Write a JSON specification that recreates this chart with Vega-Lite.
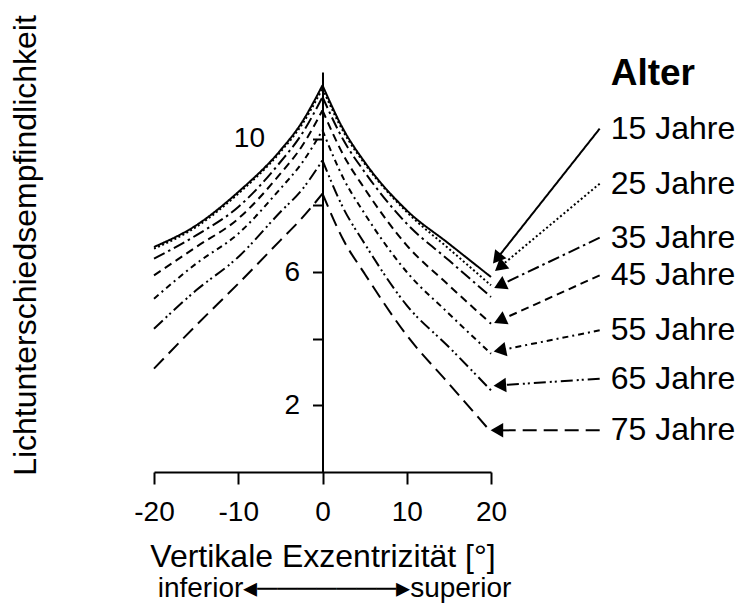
{
  "$schema": "https://vega.github.io/schema/vega-lite/v6.json",
  "autosize": {"type": "none"},
  "width": 337,
  "height": 400,
  "padding": {"left": 154, "top": 72, "right": 253, "bottom": 136},
  "background": "white",
  "config": {
    "view": {"stroke": null},
    "font": "Liberation Sans",
    "axis": {
      "grid": false,
      "domainColor": "black",
      "domainWidth": 2,
      "tickColor": "black",
      "tickWidth": 2,
      "labelColor": "black",
      "titleColor": "black",
      "labelFont": "Liberation Sans",
      "titleFont": "Liberation Sans",
      "titleFontWeight": "normal"
    }
  },
  "title": {
    "text": "inferior◂───────▸superior",
    "orient": "bottom",
    "anchor": "middle",
    "font": "Liberation Sans",
    "fontSize": 28,
    "fontWeight": "normal",
    "color": "black",
    "offset": 3,
    "dx": 12
  },
  "datasets": {
    "kurven": [
      {"alter": "15 Jahre", "ex": -20, "ls": 6.75},
      {"alter": "15 Jahre", "ex": -15, "ls": 7.4},
      {"alter": "15 Jahre", "ex": -10, "ls": 8.4},
      {"alter": "15 Jahre", "ex": -5, "ls": 9.65},
      {"alter": "15 Jahre", "ex": -2.5, "ls": 10.47},
      {"alter": "15 Jahre", "ex": 0, "ls": 11.6},
      {"alter": "15 Jahre", "ex": 2.5, "ls": 10.27},
      {"alter": "15 Jahre", "ex": 5, "ls": 9.3},
      {"alter": "15 Jahre", "ex": 10, "ls": 7.85},
      {"alter": "15 Jahre", "ex": 15, "ls": 6.85},
      {"alter": "15 Jahre", "ex": 20, "ls": 5.85},

      {"alter": "25 Jahre", "ex": -20, "ls": 6.7},
      {"alter": "25 Jahre", "ex": -15, "ls": 7.35},
      {"alter": "25 Jahre", "ex": -10, "ls": 8.35},
      {"alter": "25 Jahre", "ex": -5, "ls": 9.6},
      {"alter": "25 Jahre", "ex": -2.5, "ls": 10.4},
      {"alter": "25 Jahre", "ex": 0, "ls": 11.5},
      {"alter": "25 Jahre", "ex": 2.5, "ls": 10.2},
      {"alter": "25 Jahre", "ex": 5, "ls": 9.25},
      {"alter": "25 Jahre", "ex": 10, "ls": 7.8},
      {"alter": "25 Jahre", "ex": 15, "ls": 6.7},
      {"alter": "25 Jahre", "ex": 20, "ls": 5.6},

      {"alter": "35 Jahre", "ex": -20, "ls": 6.4},
      {"alter": "35 Jahre", "ex": -15, "ls": 7.1},
      {"alter": "35 Jahre", "ex": -10, "ls": 7.95},
      {"alter": "35 Jahre", "ex": -5, "ls": 9.3},
      {"alter": "35 Jahre", "ex": -2.5, "ls": 10.12},
      {"alter": "35 Jahre", "ex": 0, "ls": 11.25},
      {"alter": "35 Jahre", "ex": 2.5, "ls": 9.95},
      {"alter": "35 Jahre", "ex": 5, "ls": 9.0},
      {"alter": "35 Jahre", "ex": 10, "ls": 7.45},
      {"alter": "35 Jahre", "ex": 15, "ls": 6.35},
      {"alter": "35 Jahre", "ex": 20, "ls": 5.25},

      {"alter": "45 Jahre", "ex": -20, "ls": 5.9},
      {"alter": "45 Jahre", "ex": -15, "ls": 6.75},
      {"alter": "45 Jahre", "ex": -10, "ls": 7.6},
      {"alter": "45 Jahre", "ex": -5, "ls": 8.95},
      {"alter": "45 Jahre", "ex": -2.5, "ls": 9.75},
      {"alter": "45 Jahre", "ex": 0, "ls": 10.85},
      {"alter": "45 Jahre", "ex": 2.5, "ls": 9.5},
      {"alter": "45 Jahre", "ex": 5, "ls": 8.5},
      {"alter": "45 Jahre", "ex": 10, "ls": 6.8},
      {"alter": "45 Jahre", "ex": 15, "ls": 5.6},
      {"alter": "45 Jahre", "ex": 20, "ls": 4.45},

      {"alter": "55 Jahre", "ex": -20, "ls": 5.2},
      {"alter": "55 Jahre", "ex": -15, "ls": 6.25},
      {"alter": "55 Jahre", "ex": -10, "ls": 7.15},
      {"alter": "55 Jahre", "ex": -5, "ls": 8.5},
      {"alter": "55 Jahre", "ex": -2.5, "ls": 9.25},
      {"alter": "55 Jahre", "ex": 0, "ls": 10.25},
      {"alter": "55 Jahre", "ex": 2.5, "ls": 8.8},
      {"alter": "55 Jahre", "ex": 5, "ls": 7.75},
      {"alter": "55 Jahre", "ex": 10, "ls": 6.0},
      {"alter": "55 Jahre", "ex": 15, "ls": 4.75},
      {"alter": "55 Jahre", "ex": 20, "ls": 3.55},

      {"alter": "65 Jahre", "ex": -20, "ls": 4.3},
      {"alter": "65 Jahre", "ex": -15, "ls": 5.45},
      {"alter": "65 Jahre", "ex": -10, "ls": 6.45},
      {"alter": "65 Jahre", "ex": -5, "ls": 7.8},
      {"alter": "65 Jahre", "ex": -2.5, "ls": 8.45},
      {"alter": "65 Jahre", "ex": 0, "ls": 9.35},
      {"alter": "65 Jahre", "ex": 2.5, "ls": 7.9},
      {"alter": "65 Jahre", "ex": 5, "ls": 6.85},
      {"alter": "65 Jahre", "ex": 10, "ls": 5.0},
      {"alter": "65 Jahre", "ex": 15, "ls": 3.75},
      {"alter": "65 Jahre", "ex": 20, "ls": 2.45},

      {"alter": "75 Jahre", "ex": -20, "ls": 3.1},
      {"alter": "75 Jahre", "ex": -15, "ls": 4.4},
      {"alter": "75 Jahre", "ex": -10, "ls": 5.65},
      {"alter": "75 Jahre", "ex": -5, "ls": 6.95},
      {"alter": "75 Jahre", "ex": -2.5, "ls": 7.6},
      {"alter": "75 Jahre", "ex": 0, "ls": 8.35},
      {"alter": "75 Jahre", "ex": 2.5, "ls": 6.95},
      {"alter": "75 Jahre", "ex": 5, "ls": 5.95},
      {"alter": "75 Jahre", "ex": 10, "ls": 4.1},
      {"alter": "75 Jahre", "ex": 15, "ls": 2.65},
      {"alter": "75 Jahre", "ex": 20, "ls": 1.2}
    ],
    "pfeile": [
      {"alter": "15 Jahre", "x": 32.9, "y": 10.3, "x2": 20.7, "y2": 6.4},
      {"alter": "25 Jahre", "x": 32.9, "y": 8.65, "x2": 21.05, "y2": 6.15},
      {"alter": "35 Jahre", "x": 32.9, "y": 7.03, "x2": 21.05, "y2": 5.6},
      {"alter": "45 Jahre", "x": 32.9, "y": 5.9, "x2": 21.05, "y2": 4.55},
      {"alter": "55 Jahre", "x": 32.9, "y": 4.25, "x2": 21.05, "y2": 3.65},
      {"alter": "65 Jahre", "x": 32.9, "y": 2.8, "x2": 21.05, "y2": 2.6},
      {"alter": "75 Jahre", "x": 32.9, "y": 1.25, "x2": 20.7, "y2": 1.25}
    ]
  },
  "layer": [
    {
      "data": {"name": "kurven"},
      "transform": [
        {"calculate": "datum.ex < 0 ? ['links'] : datum.ex > 0 ? ['rechts'] : ['links', 'rechts']", "as": "seite"},
        {"flatten": ["seite"]}
      ],
      "mark": {"type": "line", "color": "black", "strokeWidth": 2, "interpolate": "monotone", "clip": false},
      "encoding": {
        "x": {
          "field": "ex",
          "type": "quantitative",
          "scale": {"domain": [-20, 20], "nice": false, "zero": false},
          "axis": {
            "values": [-20, -10, 0, 10, 20],
            "labelExpr": "'' + datum.value",
            "tickSize": 12,
            "labelFontSize": 28,
            "labelPadding": 14,
            "labelFlush": false,
            "title": "Vertikale Exzentrizität [°]",
            "titleFontSize": 32,
            "titlePadding": 15
          }
        },
        "y": {
          "field": "ls",
          "type": "quantitative",
          "scale": {"domain": [0, 12], "nice": false},
          "axis": {
            "orient": "left",
            "offset": -168.5,
            "values": [2, 4, 6, 8, 10],
            "tickSize": 10,
            "labelExpr": "datum.value % 4 == 2 ? datum.label : ''",
            "labelFontSize": 28,
            "labelPadding": {"condition": {"test": "datum.value == 10", "value": 48}, "value": 13},
            "title": "Lichtunterschiedsempfindlichkeit",
            "titleFontSize": 32,
            "titleBaseline": "alphabetic",
            "titleX": -287.5,
            "titleY": 173
          }
        },
        "strokeDash": {
          "field": "alter",
          "type": "nominal",
          "scale": {
            "domain": ["15 Jahre", "25 Jahre", "35 Jahre", "45 Jahre", "55 Jahre", "65 Jahre", "75 Jahre"],
            "range": [[1, 0], [2, 2.5], [12, 4, 2.5, 4], [8, 5], [6, 4, 2, 4], [12, 4, 2, 3, 2, 4], [14, 7]]
          },
          "legend": null
        },
        "detail": {"field": "seite"},
        "order": {"field": "ex", "type": "quantitative"}
      }
    },
    {
      "data": {"name": "pfeile"},
      "mark": {"type": "rule", "color": "black", "strokeWidth": 2, "clip": false},
      "encoding": {
        "x": {"field": "x", "type": "quantitative"},
        "y": {"field": "y", "type": "quantitative"},
        "x2": {"field": "x2"},
        "y2": {"field": "y2"},
        "strokeDash": {"field": "alter", "type": "nominal", "legend": null}
      }
    },
    {
      "data": {"name": "pfeile"},
      "transform": [
        {"calculate": "atan2(-(datum.y2 - datum.y) * 33.33, (datum.x2 - datum.x) * 8.425) * 180 / PI", "as": "winkel"}
      ],
      "mark": {"type": "point", "shape": "triangle-right", "filled": true, "color": "black", "size": 210, "opacity": 1, "clip": false},
      "encoding": {
        "x": {"field": "x2", "type": "quantitative"},
        "y": {"field": "y2", "type": "quantitative"},
        "angle": {"field": "winkel", "type": "quantitative", "scale": null}
      }
    },
    {
      "data": {"name": "pfeile"},
      "mark": {"type": "text", "align": "left", "baseline": "middle", "dx": 11, "fontSize": 32, "font": "Liberation Sans", "color": "black", "clip": false},
      "encoding": {
        "x": {"field": "x", "type": "quantitative"},
        "y": {"field": "y", "type": "quantitative"},
        "text": {"field": "alter"}
      }
    },
    {
      "data": {"values": [{"titel": "Alter"}]},
      "mark": {"type": "text", "align": "left", "baseline": "middle", "dx": 11, "fontSize": 37, "fontWeight": "bold", "font": "Liberation Sans", "color": "black", "clip": false},
      "encoding": {
        "x": {"datum": 32.9},
        "y": {"datum": 11.95},
        "text": {"field": "titel"}
      }
    }
  ]
}
